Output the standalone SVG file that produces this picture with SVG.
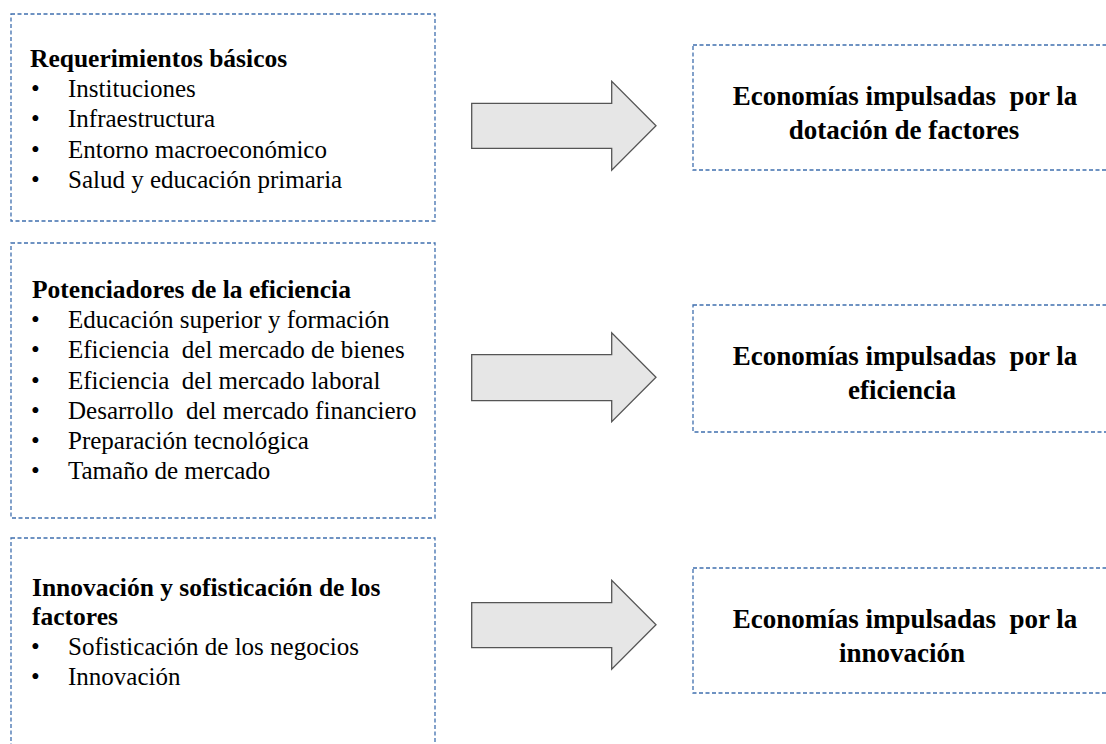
<svg xmlns="http://www.w3.org/2000/svg" width="1106" height="744" viewBox="0 0 1106 744">
<style>
.box{fill:#ffffff;stroke:#3f6fae;stroke-width:1.3;stroke-dasharray:4 2.5}
.h{font-family:"Liberation Serif","Times New Roman",serif;font-weight:bold;font-size:25.5px;fill:#000}
.t{font-family:"Liberation Serif","Times New Roman",serif;font-size:25px;fill:#000}
.r{font-family:"Liberation Serif","Times New Roman",serif;font-weight:bold;font-size:27px;fill:#000;text-anchor:middle}
.arrow{fill:#e6e6e6;stroke:#555555;stroke-width:1.3;stroke-linejoin:miter}
</style>
<rect width="1106" height="744" fill="#ffffff"/>
<g id="req-basicos">
<rect class="box" x="11" y="14" width="424" height="207"/>
<text class="h" x="30" y="67">Requerimientos básicos</text>
<text class="t" x="31" y="97">•</text><text class="t" x="68" y="97">Instituciones</text>
<text class="t" x="31" y="127">•</text><text class="t" x="68" y="127">Infraestructura</text>
<text class="t" x="31" y="158">•</text><text class="t" x="68" y="158">Entorno macroeconómico</text>
<text class="t" x="31" y="188">•</text><text class="t" x="68" y="188">Salud y educación primaria</text>
</g>
<g id="potenciadores">
<rect class="box" x="11" y="243" width="424" height="275"/>
<text class="h" x="32" y="298">Potenciadores de la eficiencia</text>
<text class="t" x="31" y="328">•</text><text class="t" x="68" y="328">Educación superior y formación</text>
<text class="t" x="31" y="358">•</text><text class="t" x="68" y="358" xml:space="preserve">Eficiencia  del mercado de bienes</text>
<text class="t" x="31" y="389">•</text><text class="t" x="68" y="389" xml:space="preserve">Eficiencia  del mercado laboral</text>
<text class="t" x="31" y="419">•</text><text class="t" x="68" y="419" xml:space="preserve">Desarrollo  del mercado financiero</text>
<text class="t" x="31" y="449">•</text><text class="t" x="68" y="449">Preparación tecnológica</text>
<text class="t" x="31" y="479">•</text><text class="t" x="68" y="479">Tamaño de mercado</text>
</g>
<g id="innovacion-sofisticacion">
<rect class="box" x="11" y="538" width="424" height="230"/>
<text class="h" x="32" y="596">Innovación y sofisticación de los</text>
<text class="h" x="32" y="625">factores</text>
<text class="t" x="31" y="655">•</text><text class="t" x="68" y="655">Sofisticación de los negocios</text>
<text class="t" x="31" y="685">•</text><text class="t" x="68" y="685">Innovación</text>
</g>
<g id="eco-factores">
<rect class="box" x="693" y="45" width="430" height="125"/>
<text class="r" x="905" y="105" xml:space="preserve">Economías impulsadas  por la</text>
<text class="r" x="904" y="139">dotación de factores</text>
</g>
<g id="eco-eficiencia">
<rect class="box" x="693" y="305" width="430" height="127"/>
<text class="r" x="905" y="365" xml:space="preserve">Economías impulsadas  por la</text>
<text class="r" x="902" y="399">eficiencia</text>
</g>
<g id="eco-innovacion">
<rect class="box" x="693" y="568" width="430" height="125"/>
<text class="r" x="905" y="628" xml:space="preserve">Economías impulsadas  por la</text>
<text class="r" x="902" y="662">innovación</text>
</g>
<g id="connectors">
<path class="arrow" d="M471.7,103.3 H611.7 V81.2 L656,125.7 L611.7,170.2 V148.3 H471.7 Z"/>
<path class="arrow" d="M471.7,354.7 H611.7 V332.7 L656,377.2 L611.7,421.7 V400.7 H471.7 Z"/>
<path class="arrow" d="M471.7,602.7 H611.7 V580.2 L656,624.7 L611.7,669.2 V647.7 H471.7 Z"/>
</g>
</svg>
